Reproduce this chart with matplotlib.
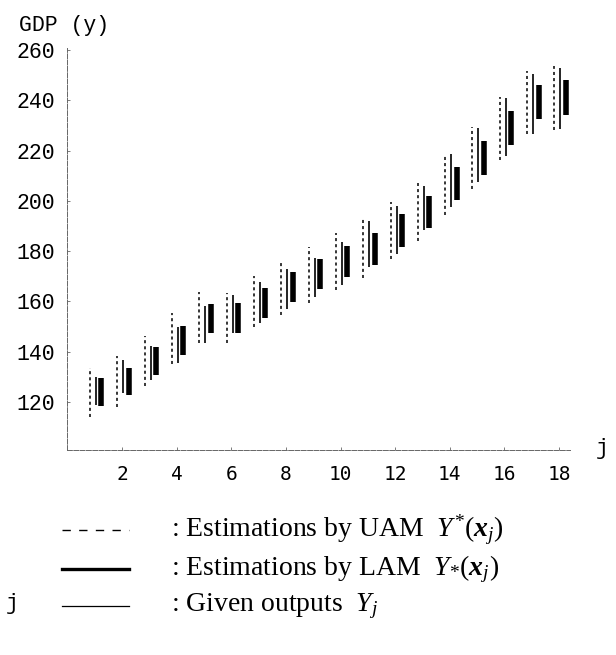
"""Interval estimations of GDP: UAM vs LAM vs given outputs."""
import matplotlib
matplotlib.use("Agg")
import matplotlib.pyplot as plt
from matplotlib.lines import Line2D

plt.rcParams["mathtext.fontset"] = "custom"
plt.rcParams["mathtext.rm"] = "Liberation Serif"
plt.rcParams["mathtext.it"] = "Liberation Serif:italic"
plt.rcParams["mathtext.bf"] = "Liberation Serif:bold:italic"

# observation index
j = list(range(1, 19))
# UAM estimations Y*(x_j) (dashed)
uam_lo = [114.2, 118.1, 126.4, 135.1, 143.6, 143.6, 150.0, 154.6, 159.5,
          164.6, 169.2, 176.8, 184.2, 194.4, 204.6, 216.3, 226.6, 228.2]
uam_hi = [133.4, 138.3, 146.3, 155.3, 163.8, 163.5, 170.1, 176.5, 181.8,
          187.4, 193.7, 199.7, 207.0, 218.6, 229.3, 241.2, 251.8, 253.7]
# given outputs Y_j (thin)
obs_lo = [118.8, 123.7, 128.8, 135.6, 143.6, 147.3, 151.5, 156.9, 161.9,
          166.5, 173.6, 178.9, 188.4, 197.7, 207.6, 217.9, 226.6, 228.5]
obs_hi = [129.8, 136.7, 142.3, 150.0, 158.2, 162.6, 167.9, 172.8, 177.2,
          183.8, 192.1, 198.0, 205.9, 218.6, 229.1, 240.8, 250.5, 252.7]
# LAM estimations Y_*(x_j) (thick)
lam_lo = [118.4, 122.8, 130.7, 138.7, 147.3, 147.3, 153.3, 159.9, 164.8,
          169.8, 174.5, 181.8, 189.1, 200.3, 210.3, 222.2, 232.4, 234.2]
lam_hi = [129.4, 133.4, 142.0, 150.2, 159.0, 159.3, 165.2, 171.8, 176.8,
          182.2, 187.4, 194.7, 201.9, 213.4, 223.9, 235.8, 246.1, 248.1]

xticks = [2, 4, 6, 8, 10, 12, 14, 16, 18]
yticks = [120, 140, 160, 180, 200, 220, 240, 260]

W, H = 616, 655
fig = plt.figure(figsize=(W / 100, H / 100), dpi=100)
ax = fig.add_axes([67.3 / W, 1 - 449.8 / H, 502.7 / W, 402.3 / H])

ax.vlines([x - 0.17 for x in j], uam_lo, uam_hi, colors="black",
          linewidth=1.1, linestyles=(0, (2.0, 2.0)))
ax.vlines([x + 0.05 for x in j], obs_lo, obs_hi, colors="black", linewidth=1.2)
ax.vlines([x + 0.25 for x in j], lam_lo, lam_hi, colors="black", linewidth=4.0)

ax.set_xlim(0, 18.4)
ax.set_ylim(101, 261)
ax.set_xticks(xticks)
ax.set_yticks(yticks)
ax.set_xticklabels([str(t) for t in xticks], family="DejaVu Sans Mono", fontsize=14)
ax.set_yticklabels([str(t) for t in yticks], family="Liberation Mono", fontsize=15.5)
ax.tick_params(axis="both", direction="in", length=2.5, width=0.6, color="#666666")
ax.tick_params(axis="y", pad=8.5)
ax.tick_params(axis="x", pad=11)
for s in ["top", "right"]:
    ax.spines[s].set_visible(False)
for s in ["left", "bottom"]:
    ax.spines[s].set_color("#666666")
    ax.spines[s].set_linewidth(0.7)
    ax.spines[s].set_linestyle((0, (5, 1.5)))

# axis labels
fig.text(64 / W, 1 - 31 / H, "GDP (y)", family="Liberation Mono", fontsize=15.5,
         ha="center", va="baseline")
fig.text(602 / W, 1 - 454 / H, "j", family="Liberation Mono", fontsize=15.5,
         ha="center", va="baseline")
fig.text(6 / W, 1 - 609 / H, "j", family="Liberation Mono", fontsize=15.5,
         ha="left", va="baseline")

# legend
rows = [
    (530, dict(linewidth=1.0, linestyle=(0, (6, 6))),
     r": Estimations by UAM  $Y^{*}(\mathbf{x}_{j})$"),
    (569, dict(linewidth=2.4, linestyle="-"),
     r": Estimations by LAM  $Y_{*}(\mathbf{x}_{j})$"),
    (606, dict(linewidth=0.9, linestyle="-"),
     r": Given outputs  $Y_{j}$"),
]
for py, style, label in rows:
    fig.add_artist(Line2D([62 / W, 129 / W], [1 - py / H, 1 - py / H],
                          transform=fig.transFigure, color="black", **style))
    fig.text(171 / W, 1 - py / H, label, family="Liberation Serif", fontsize=20,
             ha="left", va="center")

fig.savefig("out.png", dpi=100)
